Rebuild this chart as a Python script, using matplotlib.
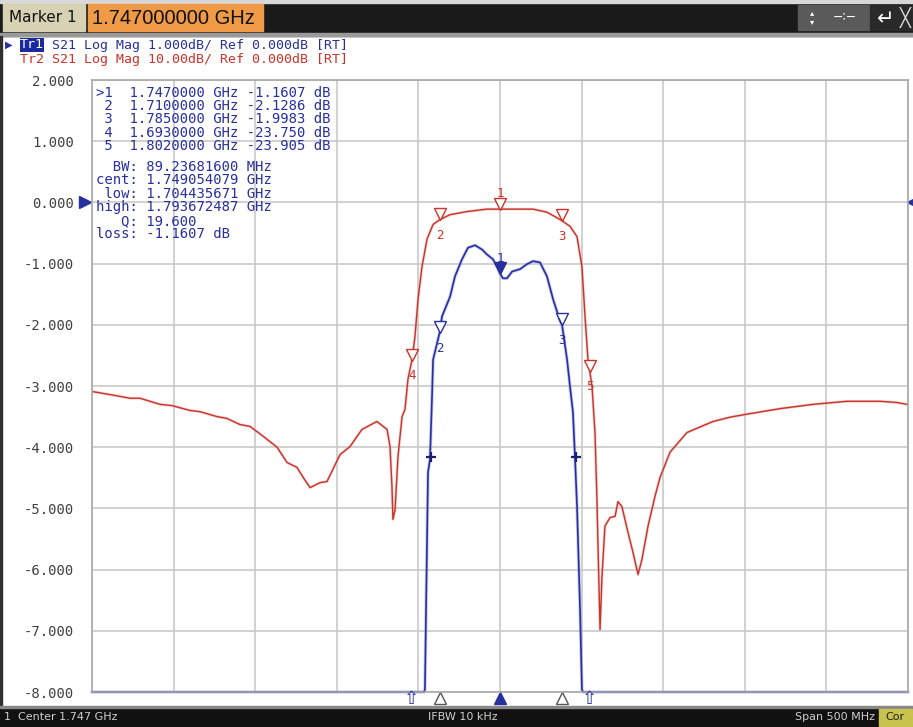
import numpy as np
import matplotlib.pyplot as plt
from matplotlib.patches import Rectangle
from matplotlib import transforms

W, H = 913, 727

# Tr1 (blue, 1 dB/div) S21, frequency in MHz
tr1_freq = [1497, 1700.4, 1701.0, 1702.3, 1702.9, 1704.1, 1705.3, 1706.0, 1710.0, 1711.5,
            1716.4, 1719.4, 1723.7, 1727.4, 1731.7, 1736.0, 1739.0, 1742.7, 1745.2, 1747.0,
            1748.8, 1751.3, 1754.4, 1759.3, 1763.5, 1767.2, 1771.5, 1775.8, 1779.5, 1783.8,
            1785.0, 1788.1, 1789.9, 1791.7, 1793.0, 1794.2, 1796.0, 1797.2, 1797.9, 1997]
tr1_db = [-30, -30, -7.96, -5.51, -4.41, -4.20, -3.22, -2.57, -2.13, -1.86,
          -1.54, -1.21, -0.93, -0.74, -0.70, -0.77, -0.85, -0.93, -1.05, -1.16,
          -1.24, -1.24, -1.13, -1.09, -1.01, -0.96, -0.98, -1.21, -1.58, -1.94,
          -2.00, -2.57, -3.01, -3.43, -4.20, -4.97, -6.60, -7.96, -30, -30]

# Tr2 (red, 10 dB/div) S21, frequency in MHz
tr2_freq = [1497.0, 1508.0, 1520.3, 1526.4, 1538.7, 1546.0, 1557.1, 1563.2, 1573.6, 1579.7,
            1587.7, 1593.8, 1601.8, 1610.4, 1616.5, 1622.6, 1626.3, 1630.6, 1636.7, 1641.0,
            1649.0, 1655.1, 1662.4, 1671.6, 1677.8, 1679.6, 1680.8, 1681.4, 1682.7, 1684.5,
            1687.0, 1688.8, 1690.6, 1693.1, 1694.9, 1696.8, 1699.2, 1702.3, 1706.0, 1710.2,
            1716.4, 1726.8, 1739.0, 1747.0, 1755.0, 1767.2, 1775.8, 1783.8, 1789.9, 1794.2,
            1797.2, 1799.1, 1800.9, 1803.4, 1805.2, 1806.4, 1807.0, 1808.3, 1809.5, 1811.3,
            1814.4, 1817.5, 1819.3, 1821.7, 1825.4, 1828.5, 1831.6, 1834.0, 1837.7, 1842.0,
            1845.0, 1851.2, 1861.6, 1877.5, 1887.9, 1898.3, 1918.6, 1938.8, 1959.6, 1979.8,
            1990.2, 1996.4]
tr2_db = [-30.9, -31.4, -32.0, -32.0, -33.0, -33.2, -34.0, -34.2, -35.0, -35.3,
          -36.3, -36.6, -38.2, -40.0, -42.5, -43.3, -44.9, -46.6, -45.8, -45.6,
          -41.2, -39.9, -37.1, -35.8, -37.1, -39.9, -46.4, -51.8, -50.2, -41.5,
          -35.0, -33.8, -28.9, -25.7, -21.9, -15.8, -10.5, -6.0, -3.6, -2.8,
          -2.0, -1.5, -1.1, -1.1, -1.1, -1.1, -1.6, -2.8, -3.9, -5.6,
          -10.5, -18.6, -25.7, -30.1, -37.6, -48.5, -55.6, -69.8, -61.1, -52.9,
          -51.5, -51.3, -48.9, -49.7, -53.9, -57.2, -60.8, -58.3, -52.9, -48.0,
          -45.0, -40.8, -37.6, -35.8, -35.1, -34.6, -33.7, -33.0, -32.5, -32.5,
          -32.7, -33.0]

marker_num = [1, 2, 3, 4, 5]
marker_freq = [1747.0, 1710.0, 1785.0, 1693.0, 1802.0]
bw_freq = [1704.435671, 1793.672487]
bw_level = -1.1607 - 3.0

y_ticks = [2, 1, 0, -1, -2, -3, -4, -5, -6, -7, -8]

readout_1 = [">1  1.7470000 GHz -1.1607 dB",
             " 2  1.7100000 GHz -2.1286 dB",
             " 3  1.7850000 GHz -1.9983 dB",
             " 4  1.6930000 GHz -23.750 dB",
             " 5  1.8020000 GHz -23.905 dB"]
readout_2 = ["  BW: 89.23681600 MHz",
             "cent: 1.749054079 GHz",
             " low: 1.704435671 GHz",
             "high: 1.793672487 GHz",
             "   Q: 19.600",
             "loss: -1.1607 dB"]

BLUE = "#27309c"
RED = "#c9332a"
MONO = "DejaVu Sans Mono"

fig = plt.figure(figsize=(W / 100, H / 100), dpi=100)
fig.patch.set_facecolor("white")

# main graticule
ax = fig.add_axes([92 / W, 1 - 692 / H, 816 / W, 612 / H])
ax.set_xlim(1497, 1997)
ax.set_ylim(-8, 2)
ax.set_xticks(np.linspace(1497, 1997, 11))
ax.set_yticks(y_ticks)
ax.set_yticklabels([f"{v:.3f}" for v in y_ticks], family=MONO, fontsize=10, color="#404040")
ax.set_xticklabels([])
ax.tick_params(length=0, pad=13)
ax.grid(color="#c9c9c9", lw=1.2)
for s in ax.spines.values():
    s.set_color("#a8a8a8")
    s.set_linewidth(1.2)

red_y = np.array(tr2_db) / 10.0
blue_y = np.clip(tr1_db, -8, 2)
ax.plot(tr2_freq, red_y, color="#e8a0a0", lw=2.0, alpha=0.5)
ax.plot(tr2_freq, red_y, color=RED, lw=1.0)
ax.plot(tr1_freq, blue_y, color="#9aa2ea", lw=2.4, alpha=0.55, clip_on=False)
ax.plot(tr1_freq, blue_y, color=BLUE, lw=1.2, clip_on=False)

# markers
up = transforms.offset_copy(ax.transData, fig=fig, x=0, y=4, units="points")
red_m = np.interp(marker_freq, tr2_freq, red_y)
blue_m = np.interp(marker_freq, tr1_freq, tr1_db)
for n, f, r, b in zip(marker_num, marker_freq, red_m, blue_m):
    ax.plot(f, r, marker="v", ms=8, mfc="white", mec=RED, mew=1.0, transform=up, zorder=5)
    dy = 11 if n == 1 else -11
    ax.annotate(str(n), (f, r), xytext=(0, dy), textcoords="offset points", ha="center",
                va="center", color=RED, fontsize=9, family=MONO, zorder=6)
    if b > -8:
        ax.plot(f, b, marker="v", ms=8, mfc=BLUE if n == 1 else "white", mec=BLUE,
                mew=1.0, transform=up, zorder=5)
        ax.annotate(str(n), (f, b), xytext=(0, dy), textcoords="offset points", ha="center",
                    va="center", color=BLUE, fontsize=9, family=MONO, zorder=6)

ax.plot(bw_freq, [bw_level] * 2, ls="none", marker="+", ms=7, mew=1.6, color="#1a2070", zorder=6)

# stimulus markers under the graticule
bot = transforms.blended_transform_factory(ax.transData, ax.transAxes)
for n, f, b in zip(marker_num, marker_freq, blue_m):
    if b < -8:
        ax.text(f, -0.012, "\u21e7", transform=bot, ha="center", va="center",
                fontsize=13, color=BLUE, clip_on=False)
    else:
        ax.plot(f, -0.01, marker="^", ms=9, mfc=BLUE if n == 1 else "white",
                mec=BLUE if n == 1 else "#555555", mew=1.0, transform=bot, clip_on=False)

# reference level arrows
ax.plot(-0.008, 0, marker=">", ms=8, color=BLUE, clip_on=False,
        transform=transforms.blended_transform_factory(ax.transAxes, ax.transData))
ax.plot(1.006, 0, marker="<", ms=8, color=BLUE, clip_on=False,
        transform=transforms.blended_transform_factory(ax.transAxes, ax.transData))

# overlay in pixel coordinates
ov = fig.add_axes([0, 0, 1, 1], facecolor="none")
ov.set_xlim(0, W)
ov.set_ylim(H, 0)
ov.axis("off")

# top bar
ov.add_patch(Rectangle((0, 0), W, 36, color="#1a1a1a"))
ov.add_patch(Rectangle((0, 0), W, 3, color="#d8d8d8"))
ov.add_patch(Rectangle((3, 4), 82, 27, color="#d8d2b4"))
ov.text(9, 18, "Marker 1", fontsize=11, va="center", color="#111111")
ov.add_patch(Rectangle((88, 4), 175, 27, color="#ee9a46"))
ov.text(92, 18, "1.747000000 GHz", family="Liberation Sans", fontsize=14.5, va="center",
        color="#111111")
ov.add_patch(Rectangle((798, 5), 72, 25, color="#5a5a5a"))
ov.add_patch(Rectangle((870, 5), 43, 25, color="#2a2a2a"))
ov.text(812, 17, "\u25b4\n\u25be", fontsize=6, color="white", ha="center", va="center", linespacing=0.9)
ov.text(845, 17, "\u2212\u2236\u2212", fontsize=9, color="white", ha="center", va="center")
ov.text(886, 19, "\u21b5", fontsize=15, color="white", ha="center", va="center")
ov.text(905, 17, "\u2573", fontsize=13, color="#dddddd", ha="center", va="center")
ov.add_patch(Rectangle((0, 33), W, 3, color="#9a9a9a"))
ov.add_patch(Rectangle((0, 36), 2, H - 36, color="#303030"))

# trace headers
ov.text(9, 45, "\u25b6", fontsize=7, color=BLUE, ha="center", va="center")
ov.text(20, 45, "Tr1", family=MONO, fontsize=9.5, color="white", va="center",
        bbox=dict(boxstyle="square,pad=0.02", fc="#1a2a9c", ec="none"))
ov.text(52, 45, "S21 Log Mag 1.000dB/ Ref 0.000dB [RT]", family=MONO, fontsize=9.5,
        color=BLUE, va="center")
ov.text(20, 59, "Tr2 S21 Log Mag 10.00dB/ Ref 0.000dB [RT]", family=MONO, fontsize=9.5,
        color=RED, va="center")

# marker readout
for i, line in enumerate(readout_1):
    ov.text(96, 93 + 13.2 * i, line, family=MONO, fontsize=10, color=BLUE, va="center")
for i, line in enumerate(readout_2):
    ov.text(96, 167 + 13.5 * i, line, family=MONO, fontsize=10, color=BLUE, va="center")

# bottom status bar
ov.add_patch(Rectangle((0, 707), W, 20, color="#111111"))
ov.add_patch(Rectangle((0, 706), W, 1.5, color="#888888"))
ov.text(4, 717, "1  Center 1.747 GHz", fontsize=8, color="#cfcfcf", va="center")
ov.text(428, 717, "IFBW 10 kHz", fontsize=8, color="#cfcfcf", va="center")
ov.text(875, 717, "Span 500 MHz", fontsize=8, color="#cfcfcf", va="center", ha="right")
ov.add_patch(Rectangle((879, 709), 33, 17, color="#c9c24e"))
ov.text(895, 717, "Cor", fontsize=8, color="#222222", va="center", ha="center")

fig.savefig("out.png", dpi=100)
